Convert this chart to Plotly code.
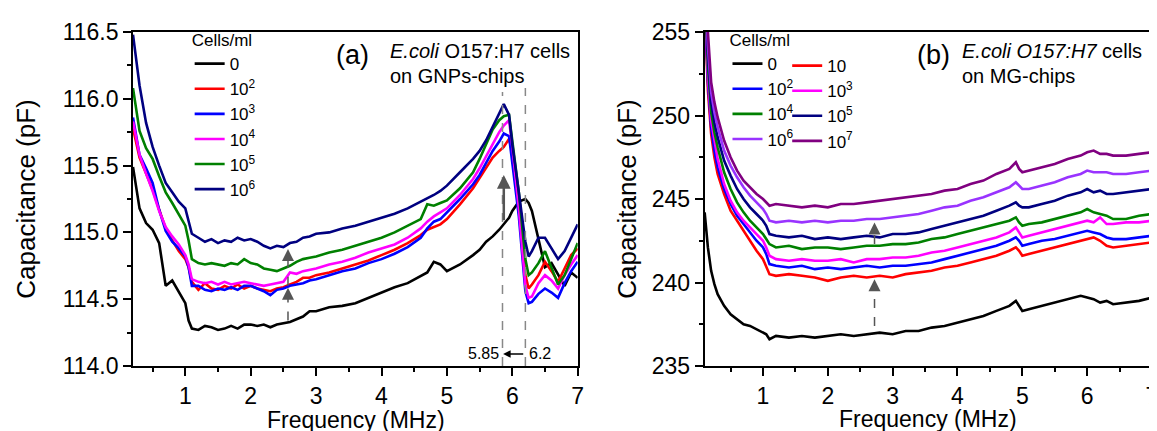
import plotly.graph_objects as go

# ---------------- Panel (a): GNPs-chips ----------------
freq_a = [0.2,0.3,0.4,0.5,0.6,0.7,0.8,0.9,1.0,1.05,
          1.1,1.2,1.3,1.4,1.5,1.6,1.7,1.8,1.9,2.0,
          2.1,2.2,2.3,2.4,2.5,2.6,2.7,2.8,2.9,3.0,
          3.2,3.4,3.6,3.8,4.0,4.2,4.4,4.6,4.7,4.8,
          4.9,5.0,5.2,5.4,5.5,5.6,5.7,5.8,5.87,5.95,
          6.0,6.1,6.2,6.25,6.3,6.4,6.5,6.6,6.7,6.8,
          6.9,7.0]

a_0 = [115.49,115.18,115.07,115.02,114.92,114.60,114.64,114.55,114.47,114.34,
       114.28,114.27,114.30,114.29,114.27,114.28,114.30,114.28,114.31,114.31,
       114.30,114.31,114.29,114.31,114.32,114.33,114.35,114.37,114.41,114.41,
       114.44,114.45,114.47,114.51,114.55,114.59,114.62,114.67,114.70,114.78,
       114.76,114.71,114.76,114.83,114.87,114.93,114.97,115.02,115.06,115.11,
       115.16,115.23,115.25,115.22,115.16,114.95,114.74,114.77,114.68,114.60,
       114.70,114.66]
a_1e2 = [115.78,115.56,115.44,115.32,115.17,115.03,114.94,114.86,114.80,114.74,
         114.63,114.57,114.62,114.58,114.57,114.60,114.58,114.61,114.58,114.60,
         114.58,114.57,114.56,114.58,114.59,114.61,114.63,114.66,114.66,114.68,
         114.70,114.73,114.76,114.79,114.83,114.87,114.92,114.98,115.02,115.04,
         115.06,115.10,115.21,115.33,115.41,115.48,115.56,115.61,115.64,115.70,
         115.60,115.18,114.68,114.58,114.61,114.68,114.78,114.71,114.63,114.73,
         114.83,114.88]
a_1e3 = [115.86,115.58,115.48,115.37,115.17,115.01,114.93,114.88,114.82,114.74,
         114.60,114.60,114.57,114.56,114.58,114.57,114.59,114.57,114.60,114.60,
         114.58,114.56,114.53,114.57,114.58,114.60,114.61,114.62,114.64,114.65,
         114.68,114.71,114.73,114.77,114.80,114.84,114.89,114.96,115.03,115.08,
         115.10,115.15,115.25,115.36,115.43,115.52,115.61,115.68,115.74,115.72,
         115.53,115.12,114.56,114.47,114.48,114.54,114.58,114.55,114.51,114.62,
         114.71,114.78]
a_1e4 = [115.83,115.58,115.44,115.31,115.16,115.04,114.97,114.91,114.83,114.76,
         114.65,114.63,114.62,114.63,114.61,114.63,114.61,114.62,114.63,114.62,
         114.61,114.60,114.61,114.62,114.63,114.70,114.69,114.71,114.72,114.73,
         114.76,114.78,114.81,114.85,114.88,114.91,114.96,115.03,115.08,115.12,
         115.15,115.18,115.28,115.40,115.48,115.57,115.67,115.75,115.80,115.84,
         115.64,115.18,114.60,114.51,114.52,114.62,114.68,114.64,114.58,114.68,
         114.76,114.83]
a_1e5 = [116.08,115.76,115.63,115.55,115.42,115.30,115.22,115.14,115.05,114.94,
         114.80,114.77,114.76,114.77,114.76,114.75,114.77,114.76,114.80,114.77,
         114.76,114.73,114.72,114.71,114.73,114.75,114.78,114.80,114.81,114.82,
         114.85,114.87,114.90,114.93,114.96,115.00,115.05,115.10,115.21,115.20,
         115.22,115.24,115.33,115.45,115.55,115.66,115.77,115.84,115.87,115.88,
         115.70,115.30,114.80,114.68,114.70,114.77,114.86,114.74,114.61,114.68,
         114.80,114.92]
a_1e6 = [116.48,116.10,115.82,115.64,115.50,115.37,115.30,115.23,115.18,115.09,
         114.99,114.96,114.93,114.95,114.92,114.94,114.93,114.96,114.94,114.95,
         114.93,114.90,114.88,114.90,114.89,114.92,114.93,114.96,114.97,114.99,
         115.00,115.03,115.05,115.08,115.11,115.14,115.18,115.23,115.25,115.28,
         115.31,115.35,115.45,115.55,115.61,115.69,115.79,115.89,115.96,115.88,
         115.66,115.30,114.93,114.82,114.86,114.96,114.96,114.88,114.80,114.86,
         114.96,115.06]

names_a = ["0", "10<sup>2</sup>", "10<sup>3</sup>", "10<sup>4</sup>", "10<sup>5</sup>", "10<sup>6</sup>"]
series_a = [a_0, a_1e2, a_1e3, a_1e4, a_1e5, a_1e6]
colors_a = ["#000000", "#ff0000", "#0000ff", "#ff00ff", "#008000", "#000080"]

# ---------------- Panel (b): MG-chips ----------------
freq_b = [0.1,0.15,0.2,0.25,0.3,0.4,0.5,0.6,0.7,0.8,
          0.9,1.0,1.05,1.1,1.2,1.4,1.6,1.8,2.0,2.2,
          2.4,2.6,2.8,3.0,3.2,3.4,3.6,3.8,4.0,4.2,
          4.4,4.6,4.8,4.9,4.95,5.0,5.1,5.3,5.5,5.7,
          5.9,6.0,6.1,6.2,6.3,6.4,6.6,6.8,7.0]

b_0 = [244.2,242.1,240.7,239.9,239.3,238.6,238.1,237.8,237.5,237.4,
       237.2,237.0,236.9,236.6,236.8,236.7,236.8,236.7,236.8,236.9,
       236.8,236.9,237.0,236.9,237.1,237.1,237.3,237.4,237.6,237.8,
       238.0,238.3,238.6,238.9,238.6,238.3,238.4,238.6,238.8,239.0,
       239.2,239.1,239.0,238.8,238.9,238.7,238.8,238.9,239.1]
b_1e1 = [256.5,251.5,248.9,247.5,246.5,245.3,244.3,243.7,243.1,242.5,
         241.9,241.4,241.0,240.5,240.4,240.5,240.4,240.3,240.1,240.3,
         240.4,240.3,240.4,240.3,240.5,240.6,240.7,240.9,241.0,241.2,
         241.4,241.6,241.9,242.1,241.9,241.6,241.7,241.9,242.1,242.3,
         242.5,242.6,242.7,242.5,242.2,242.1,242.2,242.3,242.4]
b_1e2 = [257.0,252.0,249.3,247.9,246.9,245.6,244.7,244.0,243.5,243.0,
         242.5,242.1,241.7,241.1,241.0,240.9,241.0,240.8,240.9,240.8,
         240.9,241.0,240.9,241.0,241.0,241.1,241.2,241.4,241.6,241.8,
         242.0,242.2,242.5,242.7,242.5,242.2,242.3,242.5,242.6,242.8,
         243.0,243.1,243.0,242.9,242.7,242.6,242.6,242.7,242.8]
b_1e3 = [257.5,252.4,249.7,248.4,247.4,245.9,244.9,244.2,243.7,243.3,
         242.9,242.5,242.1,241.6,241.4,241.3,241.4,241.3,241.3,241.4,
         241.2,241.4,241.4,241.5,241.5,241.6,241.8,241.9,242.1,242.3,
         242.5,242.7,243.0,243.3,243.0,242.7,242.8,243.0,243.2,243.4,
         243.6,243.7,243.6,243.9,243.5,243.5,243.6,243.6,243.7]
b_1e4 = [258.0,253.0,250.2,249.0,248.1,246.6,245.6,244.8,244.2,243.7,
         243.3,242.9,242.6,242.3,242.1,242.2,242.0,242.1,242.1,242.0,
         242.1,242.2,242.2,242.3,242.3,242.4,242.6,242.7,242.9,243.1,
         243.3,243.5,243.7,243.9,243.6,243.4,243.5,243.6,243.8,244.0,
         244.2,244.4,244.2,244.1,244.0,243.8,243.8,244.0,244.1]
b_1e5 = [258.5,253.6,250.8,249.6,248.7,247.3,246.4,245.6,245.0,244.5,
         244.1,243.7,243.4,242.9,242.8,242.7,242.8,242.6,242.7,242.6,
         242.7,242.8,242.7,242.9,242.9,243.0,243.2,243.4,243.6,243.8,
         244.0,244.3,244.6,244.8,244.6,244.5,244.5,244.7,244.9,245.2,
         245.4,245.6,245.4,245.5,245.3,245.3,245.4,245.5,245.6]
b_1e6 = [259.0,254.2,251.4,250.2,249.3,247.9,247.0,246.3,245.7,245.2,
         244.8,244.4,244.1,243.7,243.6,243.7,243.6,243.7,243.6,243.7,
         243.7,243.8,243.8,243.9,244.0,244.1,244.3,244.5,244.6,244.9,
         245.1,245.4,245.7,246.0,245.8,245.6,245.6,245.8,246.0,246.3,
         246.5,246.7,246.6,246.6,246.6,246.5,246.5,246.6,246.7]
b_1e7 = [259.5,255.0,252.0,250.8,249.9,248.5,247.5,246.7,246.1,245.7,
         245.3,245.0,244.8,244.6,244.7,244.6,244.5,244.6,244.5,244.7,
         244.7,244.8,244.9,245.0,245.1,245.2,245.3,245.5,245.6,245.9,
         246.1,246.5,246.8,247.2,246.8,246.6,246.7,246.9,247.1,247.4,
         247.6,247.8,247.9,247.7,247.7,247.6,247.6,247.7,247.8]

names_b = ["0", "10", "10<sup>2</sup>", "10<sup>3</sup>", "10<sup>4</sup>",
           "10<sup>5</sup>", "10<sup>6</sup>", "10<sup>7</sup>"]
series_b = [b_0, b_1e1, b_1e2, b_1e3, b_1e4, b_1e5, b_1e6, b_1e7]
colors_b = ["#000000", "#ff0000", "#0000ff", "#ff00ff", "#008000",
            "#000080", "#9933ff", "#800080"]
legend_b = ["legend2", "legend3"] * 4

for s in series_a:
    assert len(s) == len(freq_a)
for s in series_b:
    assert len(s) == len(freq_b)

FONT = "Arial, Liberation Sans, sans-serif"
fig = go.Figure()

for name, ys, col in zip(names_a, series_a, colors_a):
    fig.add_trace(go.Scatter(x=freq_a, y=ys, mode="lines", name=name,
                             line=dict(color=col, width=2.6),
                             xaxis="x", yaxis="y", legend="legend"))
for name, ys, col, lg in zip(names_b, series_b, colors_b, legend_b):
    fig.add_trace(go.Scatter(x=freq_b, y=ys, mode="lines", name=name,
                             line=dict(color=col, width=2.6),
                             xaxis="x2", yaxis="y2", legend=lg))

axis_common = dict(showline=True, linecolor="black", linewidth=1.8, mirror=True,
                   ticks="outside", ticklen=8, tickwidth=1.8, tickcolor="black",
                   showgrid=False, zeroline=False,
                   tickfont=dict(family=FONT, size=23, color="black"))
minor_common = dict(ticks="outside", ticklen=4, tickwidth=1.6, tickcolor="black")

xtitle_font = dict(family=FONT, size=23, color="black")
ytitle_font = dict(family=FONT, size=26, color="black")
leg_font = dict(family=FONT, size=17, color="black")

fig.update_layout(
    width=1157, height=431,
    margin=dict(l=125, r=7, t=24, b=73),
    paper_bgcolor="white", plot_bgcolor="white",
    font=dict(family=FONT, color="black"),
    xaxis=dict(domain=[0, 0.4364], range=[0.2, 7], tickvals=[1, 2, 3, 4, 5, 6, 7],
               minor=dict(dtick=0.5, tick0=0, **minor_common),
               anchor="y", **axis_common),
    yaxis=dict(range=[114.0, 116.5], dtick=0.5, tickformat=".1f",
               minor=dict(dtick=0.25, **minor_common),
               title=dict(text="Capacitance (pF)", font=ytitle_font, standoff=20),
               anchor="x", **axis_common),
    xaxis2=dict(domain=[0.561, 1], range=[0.1, 7], tickvals=[1, 2, 3, 4, 5, 6, 7],
                minor=dict(dtick=0.5, tick0=0, **minor_common),
                anchor="y2", **axis_common),
    yaxis2=dict(range=[235, 255], dtick=5,
                minor=dict(dtick=2.5, **minor_common),
                title=dict(text="Capacitance (pF)", font=ytitle_font, standoff=8),
                anchor="x2", **axis_common),
    legend=dict(x=0.0556, y=1.024, xanchor="left", yanchor="top",
                bgcolor="rgba(0,0,0,0)", font=leg_font,
                title=dict(text="Cells/ml", font=leg_font), tracegroupgap=0),
    legend2=dict(x=0.5834, y=1.024, xanchor="left", yanchor="top",
                 bgcolor="rgba(0,0,0,0)", font=leg_font,
                 title=dict(text="Cells/ml", font=leg_font), tracegroupgap=0),
    legend3=dict(x=0.642, y=0.952, xanchor="left", yanchor="top",
                 bgcolor="rgba(0,0,0,0)", font=leg_font, tracegroupgap=0),
    showlegend=True,
)

def px_x(px):
    return (px - 125) / 1025.0

def px_y(py):
    return (358 - py) / 334.0

ann = []
# x-axis titles (placed as paper annotations to sit close to the tick labels)
ann.append(dict(text="Frequency (MHz)", x=px_x(349), y=px_y(412), xref="paper", yref="paper",
                xanchor="center", yanchor="middle", showarrow=False, font=xtitle_font))
ann.append(dict(text="Frequency (MHz)", x=px_x(925), y=px_y(411), xref="paper", yref="paper",
                xanchor="center", yanchor="middle", showarrow=False, font=xtitle_font))
# panel (a) labels
ann.append(dict(text="(a)", x=px_x(346), y=px_y(47), xref="paper", yref="paper",
                xanchor="center", yanchor="middle",
                showarrow=False, font=dict(family=FONT, size=27, color="black")))
ann.append(dict(text="<i>E.coli</i> O157:H7 cells", x=px_x(382), y=px_y(43), xref="paper", yref="paper",
                xanchor="left", yanchor="middle", showarrow=False, font=dict(family=FONT, size=20, color="black")))
ann.append(dict(text="on GNPs-chips", x=px_x(382), y=px_y(68), xref="paper", yref="paper",
                xanchor="left", yanchor="middle", showarrow=False, font=dict(family=FONT, size=20, color="black")))
# panel (b) labels
ann.append(dict(text="(b)", x=px_x(930), y=px_y(47), xref="paper", yref="paper",
                xanchor="center", yanchor="middle",
                showarrow=False, font=dict(family=FONT, size=27, color="black")))
ann.append(dict(text="<i>E.coli O157:H7</i> cells", x=px_x(957), y=px_y(43), xref="paper", yref="paper",
                xanchor="left", yanchor="middle", showarrow=False, font=dict(family=FONT, size=20, color="black")))
ann.append(dict(text="on MG-chips", x=px_x(957), y=px_y(68), xref="paper", yref="paper",
                xanchor="left", yanchor="middle", showarrow=False, font=dict(family=FONT, size=20, color="black")))

GRAY = "#555555"
shapes = []
# panel (a) dashed arrows at ~2.57 MHz
shapes.append(dict(type="line", xref="x", yref="y", x0=2.57, x1=2.57, y0=114.34, y1=114.53,
                   line=dict(color=GRAY, width=1.5, dash="dash")))
shapes.append(dict(type="line", xref="x", yref="y", x0=2.57, x1=2.57, y0=114.60, y1=114.82,
                   line=dict(color=GRAY, width=1.5, dash="dash")))
ann.append(dict(x=2.57, y=114.585, ax=2.57, ay=114.53, xref="x", yref="y", axref="x", ayref="y",
                text="", showarrow=True, arrowhead=2, arrowsize=1.6, arrowwidth=1.5, arrowcolor=GRAY))
ann.append(dict(x=2.57, y=114.875, ax=2.57, ay=114.82, xref="x", yref="y", axref="x", ayref="y",
                text="", showarrow=True, arrowhead=2, arrowsize=1.6, arrowwidth=1.5, arrowcolor=GRAY))
# solid arrow at 5.87 MHz
ann.append(dict(x=5.87, y=115.43, ax=5.87, ay=115.08, xref="x", yref="y", axref="x", ayref="y",
                text="", showarrow=True, arrowhead=2, arrowsize=1.1, arrowwidth=2.5, arrowcolor=GRAY))
# dashed vertical markers 5.85 and 6.2
shapes.append(dict(type="line", xref="x", yref="y", x0=5.85, x1=5.85, y0=114.0, y1=116.05,
                   line=dict(color="#888888", width=1.5, dash="dash")))
shapes.append(dict(type="line", xref="x", yref="y", x0=6.2, x1=6.2, y0=114.0, y1=116.08,
                   line=dict(color="#888888", width=1.5, dash="dash")))
ann.append(dict(x=5.86, y=114.09, ax=6.19, ay=114.09, xref="x", yref="y", axref="x", ayref="y",
                text="", showarrow=True, arrowhead=2, arrowsize=1.0, arrowwidth=1.5, arrowcolor="black"))
ann.append(dict(text="5.85", x=5.83, y=114.09, xref="x", yref="y", xanchor="right", yanchor="middle",
                showarrow=False, font=dict(family=FONT, size=16, color="black")))
ann.append(dict(text="6.2", x=6.22, y=114.09, xref="x", yref="y", xanchor="left", yanchor="middle",
                showarrow=False, font=dict(family=FONT, size=16, color="black")))

# panel (b) dashed arrows at ~2.72 MHz
shapes.append(dict(type="line", xref="x2", yref="y2", x0=2.72, x1=2.72, y0=237.4, y1=239.6,
                   line=dict(color=GRAY, width=1.5, dash="dash")))
shapes.append(dict(type="line", xref="x2", yref="y2", x0=2.72, x1=2.72, y0=242.3, y1=243.0,
                   line=dict(color=GRAY, width=1.5, dash="dash")))
ann.append(dict(x=2.72, y=240.2, ax=2.72, ay=239.5, xref="x2", yref="y2", axref="x2", ayref="y2",
                text="", showarrow=True, arrowhead=2, arrowsize=1.6, arrowwidth=1.5, arrowcolor=GRAY))
ann.append(dict(x=2.72, y=243.6, ax=2.72, ay=242.95, xref="x2", yref="y2", axref="x2", ayref="y2",
                text="", showarrow=True, arrowhead=2, arrowsize=1.6, arrowwidth=1.5, arrowcolor=GRAY))

fig.update_layout(annotations=ann, shapes=shapes)
fig.write_html("out.html")
